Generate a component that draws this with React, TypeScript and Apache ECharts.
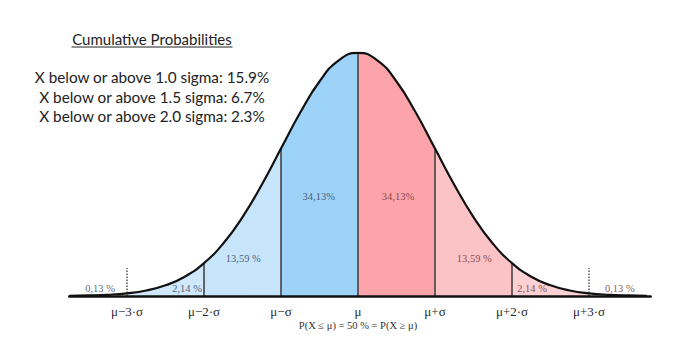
import React, { useEffect, useRef } from "react";
import * as echarts from "echarts";

// Curve (x in sigma units, y = density)
const curveX = [-3.75, -3.5, -3.25, -3, -2.75, -2.5, -2.25, -2, -1.75, -1.5, -1.25, -1, -0.75, -0.5, -0.25, 0, 0.25, 0.5, 0.75, 1, 1.25, 1.5, 1.75, 2, 2.25, 2.5, 2.75, 3, 3.25, 3.5, 3.75];
const curveY = [0.0004, 0.0009, 0.002, 0.0044, 0.0091, 0.0175, 0.0317, 0.054, 0.0863, 0.1295, 0.1826, 0.242, 0.3011, 0.3521, 0.3867, 0.3989, 0.3867, 0.3521, 0.3011, 0.242, 0.1826, 0.1295, 0.0863, 0.054, 0.0317, 0.0175, 0.0091, 0.0044, 0.002, 0.0009, 0.0004];

// Shaded bands [from, to]
const bandRanges = [[-3, -2], [-2, -1], [-1, 0], [0, 1], [1, 2], [2, 3]];
const bandColors = ["#cfe8fb", "#c6e4fa", "#9dd3f9", "#fca4a9", "#fcc3c7", "#fdd0d3"];

// Axis tick labels
const tickValues = [-3, -2, -1, 0, 1, 2, 3];
const tickLabels = ["μ−3·σ", "μ−2·σ", "μ−σ", "μ", "μ+σ", "μ+2·σ", "μ+3·σ"];

// Solid separators and dotted markers
const solidLines = [-2, -1, 0, 1, 2];
const dottedLines = [-3, 3];
const dottedTop = 0.046;

// Percentage labels
const pctX = [-3.35, -2.22, -1.49, -0.51, 0.52, 1.51, 2.26, 3.4];
const pctY = [0.0125, 0.0125, 0.062, 0.164, 0.164, 0.062, 0.0125, 0.0125];
const pctText = ["0,13 %", "2,14 %", "13,59 %", "34,13%", "34,13%", "13,59 %", "2,14 %", "0,13 %"];

const titleText = "Cumulative Probabilities";
const sigmaLines = [
  "X below or above 1.0 sigma: 15.9%",
  "X below or above 1.5 sigma: 6.7%",
  "X below or above 2.0 sigma: 2.3%",
];
const footText = "P(X ≤ μ) = 50 % = P(X ≥ μ)";

function yAt(x: number): number {
  const i = curveX.indexOf(x);
  return i >= 0 ? curveY[i] : 0;
}

export default function App() {
  const ref = useRef<HTMLDivElement>(null);
  useEffect(() => {
    if (!ref.current) return;
    const chart = echarts.init(ref.current, null, { renderer: "svg" });
    const curve = curveX.map((x, i) => [x, curveY[i]]);

    const bandSeries = bandRanges.map((r, k) => ({
      type: "line",
      data: curve.filter((p) => p[0] >= r[0] - 1e-9 && p[0] <= r[1] + 1e-9),
      smooth: true,
      symbol: "none",
      lineStyle: { width: 0 },
      areaStyle: { color: bandColors[k], opacity: 1 },
      z: 1,
      silent: true,
    }));

    const font = "'Liberation Serif', 'DejaVu Serif', serif";
    const sans = "Lato, 'Open Sans', sans-serif";
    const titleW = 161;

    chart.setOption({
      animation: false,
      grid: { left: 69.25, top: 52.3, width: 581.35, height: 243.7 },
      xAxis: {
        type: "value",
        min: -3.75,
        max: 3.8,
        axisLine: { show: true, onZero: false, lineStyle: { color: "#111", width: 2.5 } },
        axisTick: { show: false },
        splitLine: { show: false },
        axisLabel: {
          customValues: tickValues,
          formatter: (v: number) => tickLabels[tickValues.indexOf(Math.round(v))] ?? "",
          fontFamily: font,
          fontSize: 13,
          color: "#2a2a2a",
          margin: 9,
        },
        z: 10,
      },
      yAxis: { type: "value", min: 0, max: 0.4, show: false },
      series: [
        ...bandSeries,
        {
          type: "lines",
          coordinateSystem: "cartesian2d",
          data: solidLines.map((x) => ({ coords: [[x, 0], [x, yAt(x)]] })),
          lineStyle: { color: "#3a3a3a", width: 1.5, opacity: 1 },
          z: 3,
          silent: true,
        },
        {
          type: "lines",
          coordinateSystem: "cartesian2d",
          data: dottedLines.map((x) => ({ coords: [[x, 0], [x, dottedTop]] })),
          lineStyle: { color: "#555", width: 1.5, type: [1.5, 1.5], opacity: 1 },
          z: 3,
          silent: true,
        },
        {
          type: "line",
          data: curve,
          smooth: true,
          symbol: "none",
          lineStyle: { color: "#111", width: 2.2 },
          z: 5,
          silent: true,
        },
        {
          type: "scatter",
          symbolSize: 0,
          data: pctX.map((x, i) => ({
            value: [x, pctY[i]],
            label: {
              show: true,
              position: "inside",
              formatter: pctText[i],
              fontFamily: font,
              fontSize: 10.5,
              color: x < 0 ? "#2c3a58" : "#6a2a30",
            },
          })),
          z: 6,
          silent: true,
        },
      ],
      graphic: [
        {
          type: "text",
          x: 152,
          y: 39,
          style: { text: titleText, font: `15px ${sans}`, fill: "#222", align: "center", verticalAlign: "middle" },
        },
        ...sigmaLines.map((t, i) => ({
          type: "text",
          x: 152,
          y: 77 + i * 19.5,
          style: { text: t, font: `15.3px ${sans}`, fill: "#222", align: "center", verticalAlign: "middle" },
        })),
        {
          type: "text",
          x: 358,
          y: 325,
          style: { text: footText, font: `10.5px ${font}`, fill: "#333", align: "center", verticalAlign: "middle" },
        },
        {
          type: "line",
          shape: { x1: 152 - titleW / 2, y1: 47, x2: 152 + titleW / 2, y2: 47 },
          style: { stroke: "#222", lineWidth: 1 },
        },
      ],
    });

    return () => chart.dispose();
  }, []);
  return <div ref={ref} style={{ position: "fixed", left: 0, top: 0, width: 684, height: 342, background: "#fff" }} />;
}
